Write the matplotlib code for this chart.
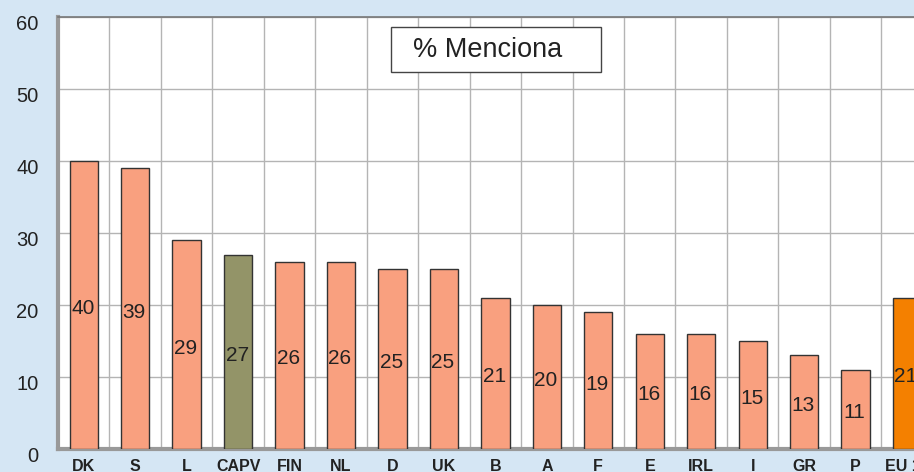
import matplotlib.pyplot as plt
from matplotlib.patches import Rectangle
from matplotlib.transforms import ScaledTranslation

plt.rcParams['font.family'] = ['Liberation Sans', 'DejaVu Sans']

# countries and % that mention it
countries = ['DK', 'S', 'L', 'CAPV', 'FIN', 'NL', 'D', 'UK', 'B', 'A',
             'F', 'E', 'IRL', 'I', 'GR', 'P', 'EU 15']
values = [40, 39, 29, 27, 26, 26, 25, 25, 21, 20, 19, 16, 16, 15, 13, 11, 21]

salmon = '#F9A07F'
colors = [salmon] * len(countries)
colors[countries.index('CAPV')] = '#939468'
colors[countries.index('EU 15')] = '#F48000'

fig = plt.figure(figsize=(9.14, 4.72), dpi=100)
fig.patch.set_facecolor('#D5E6F4')

# axes run off the right edge like in the original screenshot
ax = fig.add_axes([58 / 914, 23 / 472, 856 / 914, 432 / 472])
ax.set_facecolor('white')

x = list(range(len(countries)))
ax.bar(x, values, width=0.55, color=colors, edgecolor='#333333',
       linewidth=1, zorder=3)

# numbers in the middle of each bar
for xi, v in zip(x, values):
    ax.text(xi - 0.02, v / 2 - 0.5, str(v), ha='center', va='center',
            fontsize=15, color='#222222', zorder=4)

ax.set_yticks(range(0, 61, 10))
ax.set_xticks(x)
ax.set_xticklabels(countries, fontsize=11.5, fontweight='bold',
                   color='#222222')

# grid at the category boundaries and every 10 units
ax.set_xticks([i + 0.5 for i in x], minor=True)
# limits after the ticks, set_xticks would widen them
ax.set_xlim(-0.5, 16.135)
ax.set_ylim(0, 60)
ax.grid(True, axis='y', which='major', color='#B4B4B4', linewidth=1, zorder=0)
ax.grid(True, axis='x', which='minor', color='#B4B4B4', linewidth=1, zorder=0)
ax.tick_params(axis='both', which='both', length=0)
ax.tick_params(axis='x', pad=7)
ax.tick_params(axis='y', pad=14, labelsize=14.5, labelcolor='#222222')
for lab in ax.get_yticklabels():
    lab.set_transform(lab.get_transform()
                      + ScaledTranslation(0, -4 / 72, fig.dpi_scale_trans))

ax.spines['right'].set_visible(False)
ax.spines['left'].set_color('#999999')
ax.spines['left'].set_linewidth(3)
ax.spines['bottom'].set_color('#999999')
ax.spines['bottom'].set_linewidth(3)
ax.spines['top'].set_color('#777777')
ax.spines['top'].set_linewidth(1.2)

# legend-like label box
fig.patches.append(Rectangle((391 / 914, 1 - 72 / 472), 210 / 914, 45 / 472,
                             transform=fig.transFigure, facecolor='white',
                             edgecolor='#444444', linewidth=1, zorder=5))
fig.text(413 / 914, 1 - 50 / 472, '% Menciona', fontsize=19.5,
         color='#222222', va='center', ha='left', zorder=6)

fig.savefig('out.png', dpi=100, facecolor=fig.get_facecolor())
